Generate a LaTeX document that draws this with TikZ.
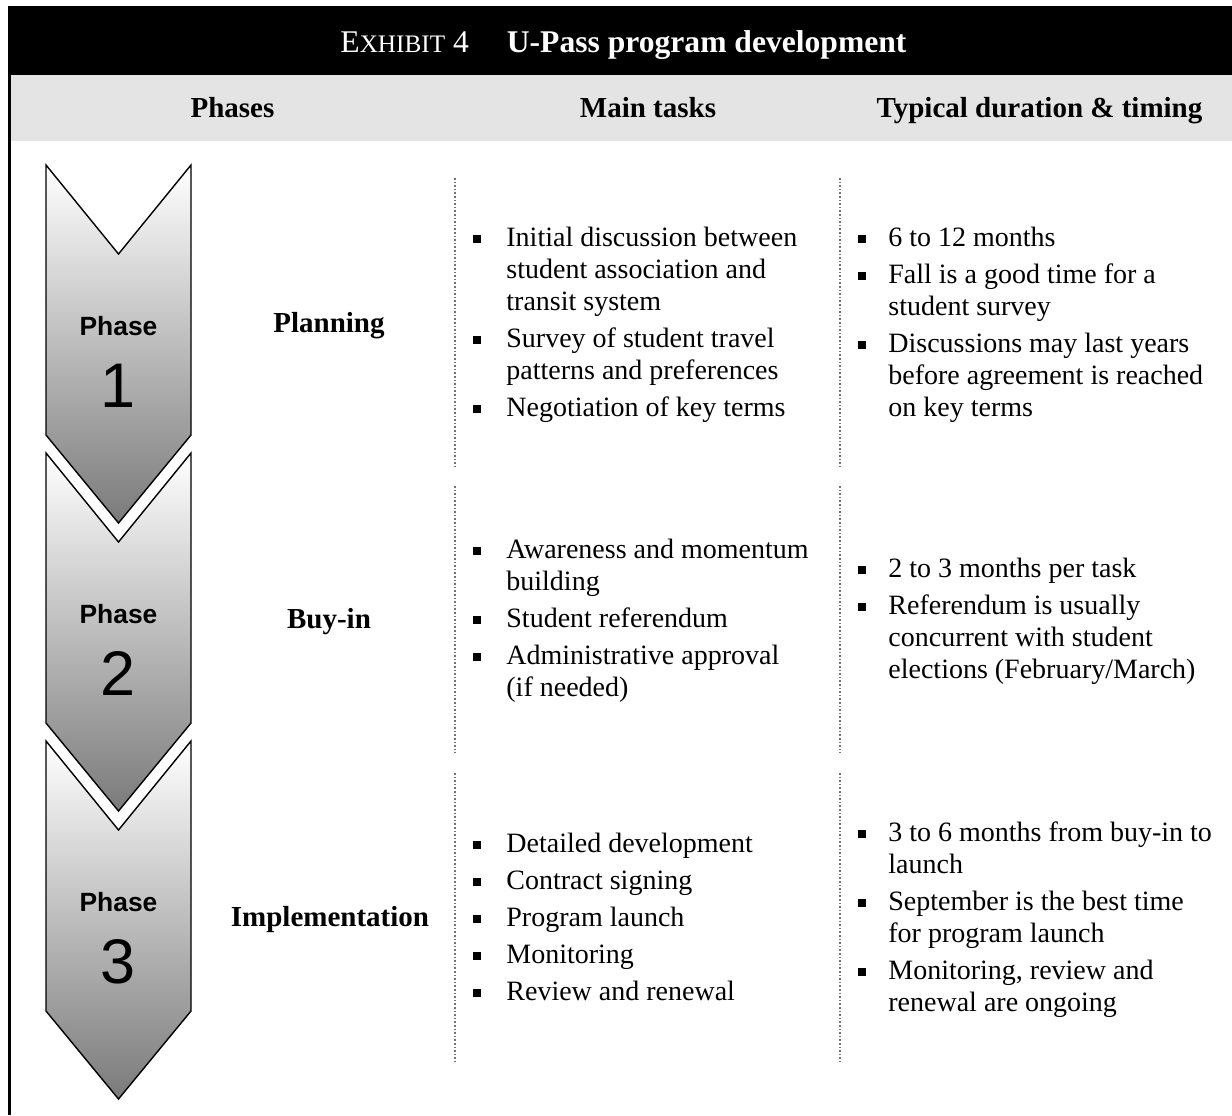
\documentclass[tikz,border=0pt]{standalone}
\usepackage{fontspec}
\setmainfont{Liberation Serif}
\newfontfamily\phasefont{Liberation Sans}

\definecolor{headgray}{HTML}{E4E4E4}
\newcommand{\sqbul}{\rule[1.8pt]{4pt}{4pt}}

\tikzset{
  chevron/.style={draw=black, line width=0.7pt, top color=white, bottom color=black!52},
  phaseword/.style={font=\phasefont\bfseries\fontsize{13.2}{15}\selectfont, anchor=base, inner sep=0pt},
  phasenum/.style={font=\phasefont\fontsize{31.5}{36}\selectfont, anchor=base, inner sep=0pt},
  colhead/.style={font=\bfseries\fontsize{14.5}{17}\selectfont, anchor=base, inner sep=0pt},
  rowlabel/.style={font=\bfseries\fontsize{14.5}{17}\selectfont, anchor=base, inner sep=0pt},
  bullets/.style={font=\fontsize{14}{16}\selectfont, anchor=west, inner sep=0pt},
  sepline/.style={draw=black!55, line width=0.8pt, densely dotted}
}

\begin{document}
\begin{tikzpicture}[x=0.5pt,y=-0.5pt]
        \useasboundingbox (0,0) rectangle (1232,1115);

        % title bar and column heads
        \fill[black] (8,6) rectangle (1232,75);
        \fill[headgray] (10,75) rectangle (1232,141);
        \draw[line width=1.15pt] (9.5,75) -- (9.5,1115);
        \node[anchor=base, inner sep=0pt, text=white, font=\fontsize{15.8}{18}\selectfont] (title) at (623.5,52)
            {E{\fontsize{12.6}{15}\selectfont XHIBIT}~4\hspace{19pt}\textbf{U-Pass program development}};
        \node[colhead] (hdphases) at (232.5,117) {Phases};
        \node[colhead] (hdtasks) at (648,117) {Main tasks};
        \node[colhead] (hdtiming) at (1039.5,117) {Typical duration \& timing};

        % chevrons
        \path[chevron] (46,165) -- (118.5,254) -- (191,165) -- (191,435) -- (118.5,523) -- (46,435) -- cycle;
        \node[phaseword] (pw1) at (118.5,335) {Phase};
        \node[phasenum] (pn1) at (118.5,407) {1};

        \begin{scope}[yshift=-144pt]
        \path[chevron] (46,165) -- (118.5,254) -- (191,165) -- (191,435) -- (118.5,523) -- (46,435) -- cycle;
        \node[phaseword] (pw2) at (118.5,335) {Phase};
        \node[phasenum] (pn2) at (118.5,407) {2};
        \end{scope}

        \begin{scope}[yshift=-288pt]
        \path[chevron] (46,165) -- (118.5,254) -- (191,165) -- (191,435) -- (118.5,523) -- (46,435) -- cycle;
        \node[phaseword] (pw3) at (118.5,335) {Phase};
        \node[phasenum] (pn3) at (118.5,407) {3};
        \end{scope}

        % phase names
        \node[rowlabel] (planning) at (329,332) {Planning};
        \node[rowlabel] (buyin) at (329,628) {Buy-in};
        \node[rowlabel] (implement) at (330,926) {Implementation};

        % dotted column rules
        \draw[sepline] (455,178) -- (455,467);
        \draw[sepline] (455,486) -- (455,753);
        \draw[sepline] (455,773) -- (455,1062);
        \draw[sepline] (840,178) -- (840,467);
        \draw[sepline] (840,486) -- (840,753);
        \draw[sepline] (840,773) -- (840,1062);

        % main tasks
        \node[bullets] (tasks1) at (473,325) {\begin{tabular}{@{}l@{\hspace{12.5pt}}l@{}}
            \sqbul & Initial discussion between\\ & student association and\\ & transit system\\[2.5pt]
            \sqbul & Survey of student travel\\ & patterns and preferences\\[2.5pt]
            \sqbul & Negotiation of key terms
        \end{tabular}};
        \node[bullets] (tasks2) at (473,621) {\begin{tabular}{@{}l@{\hspace{12.5pt}}l@{}}
            \sqbul & Awareness and momentum\\ & building\\[2.5pt]
            \sqbul & Student referendum\\[2.5pt]
            \sqbul & Administrative approval\\ & (if needed)
        \end{tabular}};
        \node[bullets] (tasks3) at (473,920) {\begin{tabular}{@{}l@{\hspace{12.5pt}}l@{}}
            \sqbul & Detailed development\\[2.5pt]
            \sqbul & Contract signing\\[2.5pt]
            \sqbul & Program launch\\[2.5pt]
            \sqbul & Monitoring\\[2.5pt]
            \sqbul & Review and renewal
        \end{tabular}};

        % duration and timing
        \node[bullets] (timing1) at (858,325) {\begin{tabular}{@{}l@{\hspace{11pt}}l@{}}
            \sqbul & 6 to 12 months\\[2.5pt]
            \sqbul & Fall is a good time for a\\ & student survey\\[2.5pt]
            \sqbul & Discussions may last years\\ & before agreement is reached\\ & on key terms
        \end{tabular}};
        \node[bullets] (timing2) at (858,622) {\begin{tabular}{@{}l@{\hspace{11pt}}l@{}}
            \sqbul & 2 to 3 months per task\\[2.5pt]
            \sqbul & Referendum is usually\\ & concurrent with student\\ & elections (February/March)
        \end{tabular}};
        \node[bullets] (timing3) at (858,920) {\begin{tabular}{@{}l@{\hspace{11pt}}l@{}}
            \sqbul & 3 to 6 months from buy-in to\\ & launch\\[2.5pt]
            \sqbul & September is the best time\\ & for program launch\\[2.5pt]
            \sqbul & Monitoring, review and\\ & renewal are ongoing
        \end{tabular}};
      \end{tikzpicture}
\end{document}
